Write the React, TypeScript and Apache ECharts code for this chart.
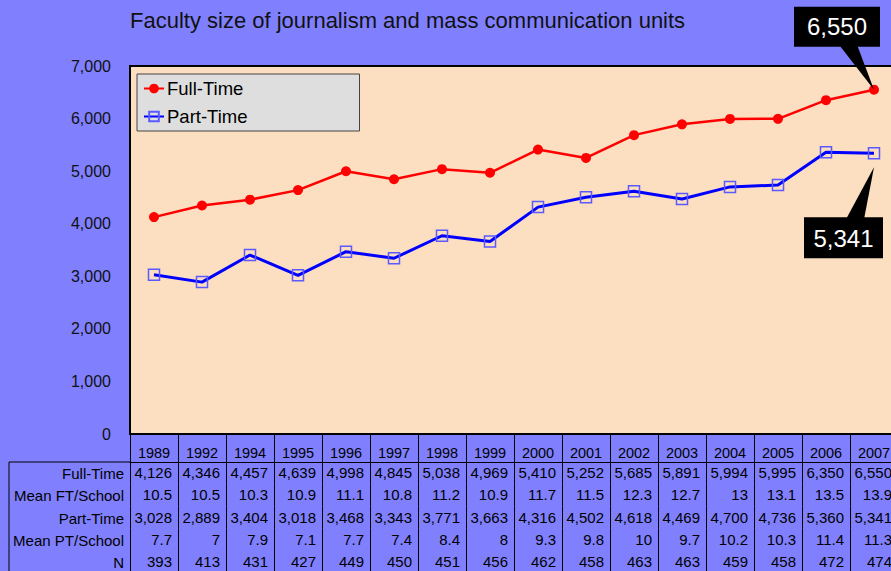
import React, { useEffect, useRef } from 'react';
import * as echarts from 'echarts';

const years = ['1989', '1992', '1994', '1995', '1996', '1997', '1998', '1999', '2000', '2001', '2002', '2003', '2004', '2005', '2006', '2007'];
const fullTime = [4126, 4346, 4457, 4639, 4998, 4845, 5038, 4969, 5410, 5252, 5685, 5891, 5994, 5995, 6350, 6550];
const meanFT = [10.5, 10.5, 10.3, 10.9, 11.1, 10.8, 11.2, 10.9, 11.7, 11.5, 12.3, 12.7, 13, 13.1, 13.5, 13.9];
const partTime = [3028, 2889, 3404, 3018, 3468, 3343, 3771, 3663, 4316, 4502, 4618, 4469, 4700, 4736, 5360, 5341];
const meanPT = [7.7, 7, 7.9, 7.1, 7.7, 7.4, 8.4, 8, 9.3, 9.8, 10, 9.7, 10.2, 10.3, 11.4, 11.3];
const nSchools = [393, 413, 431, 427, 449, 450, 451, 456, 462, 458, 463, 463, 459, 458, 472, 474];
const rowNames = ['Full-Time', 'Mean FT/School', 'Part-Time', 'Mean PT/School', 'N'];
const titleText = 'Faculty size of journalism and mass communication units';

const fmtInt = (v: number) => v.toLocaleString('en-US');
const tableRows: string[][] = [
  fullTime.map(fmtInt),
  meanFT.map((v) => String(v)),
  partTime.map(fmtInt),
  meanPT.map((v) => String(v)),
  nSchools.map(fmtInt),
];

const FONT = 'Liberation Sans, Arial, sans-serif';
const ROW_H = 22.25;
const HEADER_H = 28;
const GRID_LEFT = 130;
const GRID_TOP = 66;
const GRID_H = 368;
const GRID_W = 768;

export default function App() {
  const ref = useRef<HTMLDivElement>(null);
  useEffect(() => {
    if (!ref.current) return;
    const chart = echarts.init(ref.current, undefined, { renderer: 'svg' });

    const tableAxes = tableRows.map((row, k) => ({
      type: 'category',
      gridIndex: 0,
      position: 'bottom',
      offset: HEADER_H + ROW_H * k,
      data: years,
      axisLine: { show: k === 0, lineStyle: { color: '#000', width: 1 } },
      axisTick: { show: true, length: k === 4 ? 40 : ROW_H, lineStyle: { color: '#000', width: 1 } },
      axisLabel: {
        show: true,
        interval: 0,
        margin: 3,
        formatter: (_v: string, idx: number) => `{v|${row[idx]}}`,
        rich: { v: { width: 36, align: 'right', fontSize: 15, fontFamily: FONT, color: '#000' } },
      },
      splitLine: { show: false },
    }));

    const rowLabelGraphics = rowNames.map((name, k) => ({
      type: 'text',
      x: 124,
      y: GRID_TOP + GRID_H + HEADER_H + ROW_H * k + ROW_H / 2 + 0.5,
      style: { text: name, fill: '#000', font: `15px ${FONT}`, textAlign: 'right', textVerticalAlign: 'middle' },
    }));

    const tableTop = GRID_TOP + GRID_H + HEADER_H;
    const baseGraphics = [
      {
        type: 'line',
        shape: { x1: 9, y1: tableTop, x2: GRID_LEFT, y2: tableTop },
        style: { stroke: '#000', lineWidth: 1 },
      },
      {
        type: 'line',
        shape: { x1: 9, y1: tableTop, x2: 9, y2: 580 },
        style: { stroke: '#000', lineWidth: 1 },
      },
      ...rowLabelGraphics,
    ];

    chart.setOption({
      animation: false,
      backgroundColor: '#8080FF',
      title: {
        text: titleText,
        left: 125,
        top: 4,
        textStyle: { fontSize: 22, fontWeight: 'normal', color: '#111', fontFamily: FONT },
      },
      legend: {
        orient: 'vertical',
        left: 137,
        top: 74,
        padding: [5, 112, 5, 6],
        itemGap: 9,
        itemWidth: 20,
        itemHeight: 12,
        backgroundColor: '#DEDEDE',
        borderColor: '#444',
        borderWidth: 1,
        textStyle: { fontSize: 18.5, color: '#000', fontFamily: FONT, padding: [0, 0, 0, -2] },
        data: ['Full-Time', 'Part-Time'],
      },
      grid: {
        left: GRID_LEFT,
        top: GRID_TOP,
        width: GRID_W,
        height: GRID_H,
        outerBoundsMode: 'none',
        containLabel: false,
        show: true,
        backgroundColor: '#FCDEC1',
        borderColor: '#000',
        borderWidth: 2,
      },
      xAxis: [
        {
          type: 'category',
          gridIndex: 0,
          position: 'bottom',
          data: years,
          axisLine: { show: false },
          axisTick: { show: true, length: HEADER_H, lineStyle: { color: '#000', width: 1 } },
          axisLabel: { interval: 0, margin: 11, fontSize: 14.5, fontFamily: FONT, color: '#000' },
          splitLine: { show: false },
        },
        ...tableAxes,
      ],
      yAxis: {
        type: 'value',
        min: 0,
        max: 7000,
        interval: 1000,
        axisLine: { show: false },
        axisTick: { show: false },
        splitLine: { show: false },
        axisLabel: {
          margin: 19,
          fontSize: 16,
          fontFamily: FONT,
          color: '#111',
          formatter: (v: number) => fmtInt(v),
        },
      },
      series: [
        {
          name: 'Full-Time',
          type: 'line',
          data: fullTime,
          symbol: 'circle',
          symbolSize: 10,
          itemStyle: { color: '#FF0000' },
          lineStyle: { color: '#FF0000', width: 2.5 },
        },
        {
          name: 'Part-Time',
          type: 'line',
          data: partTime,
          symbol: 'rect',
          symbolSize: 11,
          itemStyle: { color: 'rgba(0,0,0,0)', borderColor: '#5A5AFF', borderWidth: 1.5 },
          lineStyle: { color: '#0000FF', width: 3 },
        },
      ],
      graphic: baseGraphics,
    });

    const last = years.length - 1;
    const p1 = chart.convertToPixel({ xAxisIndex: 0, yAxisIndex: 0 }, [last, fullTime[last]]) as number[];
    const p2 = chart.convertToPixel({ xAxisIndex: 0, yAxisIndex: 0 }, [last, partTime[last]]) as number[];

    const calloutFont = `24px ${FONT}`;
    chart.setOption({
      graphic: [
        ...baseGraphics,
        {
          type: 'polygon',
          z: 100,
          shape: { points: [[p1[0] - 35, p1[1] - 45], [p1[0] - 17, p1[1] - 45], [p1[0], p1[1]]] },
          style: { fill: '#000' },
        },
        {
          type: 'rect',
          z: 100,
          shape: { x: p1[0] - 80, y: p1[1] - 83, width: 86, height: 40 },
          style: { fill: '#000' },
        },
        {
          type: 'text',
          z: 101,
          x: p1[0] - 37,
          y: p1[1] - 63,
          style: { text: fmtInt(fullTime[last]), fill: '#fff', font: calloutFont, textAlign: 'center', textVerticalAlign: 'middle' },
        },
        {
          type: 'polygon',
          z: 100,
          shape: { points: [[p2[0], p2[1] + 14], [p2[0] - 28, p2[1] + 66], [p2[0] - 10, p2[1] + 66]] },
          style: { fill: '#000' },
        },
        {
          type: 'rect',
          z: 100,
          shape: { x: p2[0] - 70, y: p2[1] + 64, width: 79, height: 41 },
          style: { fill: '#000' },
        },
        {
          type: 'text',
          z: 101,
          x: p2[0] - 30.5,
          y: p2[1] + 85,
          style: { text: fmtInt(partTime[last]), fill: '#fff', font: calloutFont, textAlign: 'center', textVerticalAlign: 'middle' },
        },
      ],
    });

    return () => chart.dispose();
  }, []);

  return <div ref={ref} style={{ position: 'absolute', left: 0, top: 0, width: 891, height: 571 }} />;
}
